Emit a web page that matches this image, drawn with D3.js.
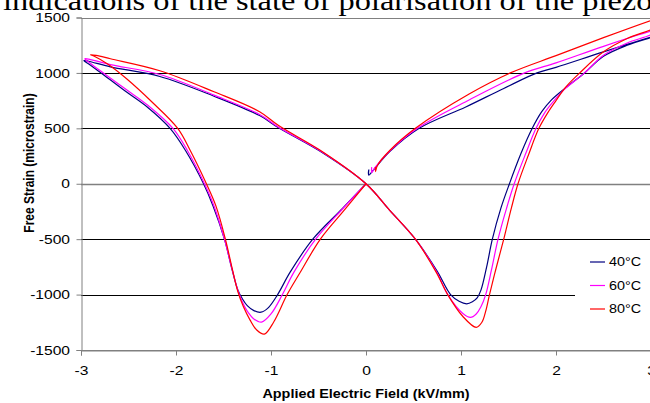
<!DOCTYPE html>
<html lang="en">
<head>
  <meta charset="UTF-8">
  <title>Free Strain vs Applied Electric Field</title>
  <script src="https://d3js.org/d3.v7.min.js"></script>
  <style>
    body { margin: 0; background: #fff; }
    svg { display: block; font-family: "Liberation Sans", Arial, sans-serif; }
    .tick text { font-size: 13px; fill: #000; }
  </style>
</head>
<body>
<svg width="650" height="403"></svg>

<script>
  // field (kV/mm), strain (microstrain) pairs, in recording order
  const loop40 = [
    [0, 0], [-0.25, -225], [-0.56, -500], [-0.8, -800], [-0.93, -1000], [-1.03, -1120], [-1.105, -1159],
    [-1.18, -1145], [-1.25, -1100], [-1.3, -1040], [-1.35, -955], [-1.41, -775], [-1.49, -500], [-1.61, -200],
    [-1.71, 0], [-1.9, 300], [-2.06, 497], [-2.3, 690], [-2.52, 827], [-2.75, 975], [-2.9, 1070], [-2.97, 1112],
    [-2.92, 1105], [-2.69, 1054], [-2.17, 968], [-1.6, 790], [-1.12, 615], [-0.92, 505], [-0.45, 275], [0, 0],
    [0.25, -240], [0.52, -500], [0.75, -790], [0.89, -1000], [0.98, -1060], [1.06, -1083], [1.12, -1065],
    [1.17, -1030], [1.21, -960], [1.27, -750], [1.33, -500], [1.42, -220], [1.51, 0], [1.63, 270], [1.75, 500],
    [1.85, 650], [1.95, 755], [2.1, 865], [2.3, 1000], [2.5, 1150], [2.75, 1250], [3.0, 1320], [3.04, 1332],
    [3.0, 1323], [2.5, 1190], [2.0, 1050], [1.8, 1000], [1.45, 860], [1.05, 693], [0.56, 500], [0.25, 290],
    [0.08, 125], [0.03, 78], [0.03, 130]
  ];
  const loop60 = [
    [0, 0], [-0.25, -230], [-0.53, -500], [-0.76, -800], [-0.88, -1000], [-1.0, -1175], [-1.1, -1249],
    [-1.18, -1220], [-1.25, -1150], [-1.3, -1070], [-1.35, -960], [-1.41, -770], [-1.49, -500], [-1.6, -200],
    [-1.7, 0], [-1.88, 300], [-2.03, 497], [-2.3, 710], [-2.52, 848], [-2.75, 990], [-2.9, 1085], [-2.96, 1128],
    [-2.9, 1120], [-2.69, 1075], [-2.17, 986], [-1.6, 800], [-1.12, 625], [-0.92, 510], [-0.45, 280], [0, 0],
    [0.25, -240], [0.52, -500], [0.74, -790], [0.86, -1000], [1.02, -1170], [1.1, -1206], [1.16, -1175],
    [1.21, -1110], [1.26, -1000], [1.32, -780], [1.39, -500], [1.48, -220], [1.56, 0], [1.68, 270], [1.79, 500],
    [1.88, 640], [1.98, 750], [2.1, 860], [2.3, 1000], [2.5, 1160], [2.75, 1270], [3.0, 1345], [3.08, 1392],
    [3.0, 1377], [2.5, 1240], [2.0, 1090], [1.67, 1000], [1.09, 758], [0.54, 500], [0.25, 295],
    [0.09, 140], [0.06, 100], [0.06, 150]
  ];
  const loop80 = [
    [0, 0], [-0.22, -230], [-0.48, -500], [-0.7, -810], [-0.83, -1000], [-0.97, -1245], [-1.07, -1357],
    [-1.15, -1320], [-1.22, -1230], [-1.29, -1110], [-1.35, -970], [-1.41, -760], [-1.48, -500], [-1.58, -200],
    [-1.68, 0], [-1.85, 300], [-1.98, 497], [-2.25, 735], [-2.52, 947], [-2.72, 1080], [-2.86, 1150], [-2.9, 1164],
    [-2.84, 1158], [-2.69, 1128], [-2.17, 1020], [-1.6, 830], [-1.12, 650], [-0.92, 525], [-0.45, 285], [0, 0],
    [0.25, -240], [0.52, -500], [0.74, -800], [0.86, -1000], [1.02, -1198], [1.16, -1296], [1.22, -1250],
    [1.26, -1150], [1.3, -1000], [1.37, -760], [1.45, -500], [1.53, -220], [1.6, 0], [1.71, 260], [1.82, 500],
    [1.92, 650], [2.0, 750], [2.1, 870], [2.25, 1000], [2.5, 1190], [2.75, 1310], [3.0, 1390], [3.2, 1470],
    [3.2, 1530], [3.0, 1473], [2.5, 1318], [2.0, 1156], [1.52, 1000], [1.09, 812], [0.52, 500], [0.25, 300],
    [0.12, 165], [0.1, 110], [0.1, 150]
  ];

  const seriesNames = ["40°C", "60°C", "80°C"];
  const seriesColors = ["#000080", "#FF00FF", "#FF0000"];
  const seriesData = [loop40, loop60, loop80];

  const xTicks = [-3, -2, -1, 0, 1, 2, 3];
  const yTicks = [-1500, -1000, -500, 0, 500, 1000, 1500];

  const svg = d3.select("svg");
  const plotLeft = 81, plotRight = 651, plotTop = 17.5, plotBottom = 350;
  const stretch = 1.2; // the picture's text is wider than it is tall

  const x = d3.scaleLinear().domain([-3, 3]).range([plotLeft, plotRight]);
  const y = d3.scaleLinear().domain([-1500, 1500]).range([plotBottom, plotTop]);

  // title text of the page it was cut from
  svg.append("text")
    .attr("transform", `translate(3,10) scale(${stretch},1)`)
    .style("font-family", "'Liberation Serif', 'Times New Roman', serif")
    .style("font-size", "27px")
    .text("indications of the state of polarisation of the piezoelectric");

  // gridlines
  svg.append("g")
    .selectAll("line")
    .data(yTicks)
    .join("line")
      .attr("x1", plotLeft)
      .attr("x2", plotRight)
      .attr("y1", d => Math.round(y(d)) + 0.5)
      .attr("y2", d => Math.round(y(d)) + 0.5)
      .attr("stroke", d => (d === 0 || Math.abs(d) === 1500) ? "#808080" : "#000")
      .attr("stroke-width", d => d === 0 ? 1.5 : 1);

  svg.append("clipPath").attr("id", "plot")
    .append("rect")
      .attr("x", plotLeft).attr("y", plotTop)
      .attr("width", plotRight - plotLeft).attr("height", plotBottom - plotTop);

  const line = d3.line()
    .x(d => x(d[0]))
    .y(d => y(d[1]))
    .curve(d3.curveCatmullRom.alpha(0.5));

  svg.append("g")
    .attr("clip-path", "url(#plot)")
    .selectAll("path")
    .data(seriesData)
    .join("path")
      .attr("d", line)
      .attr("fill", "none")
      .attr("stroke", (d, i) => seriesColors[i])
      .attr("stroke-width", 1.2)
      .attr("stroke-linejoin", "round");

  // axes
  const yAxis = svg.append("g")
    .attr("transform", `translate(${plotLeft + 0.5},0)`)
    .call(d3.axisLeft(y).tickValues(yTicks).tickSize(5).tickFormat(d => String(d)));
  yAxis.selectAll(".tick text")
    .attr("x", -11.5 / stretch)
    .attr("transform", `scale(${stretch},1)`);

  const xAxis = svg.append("g")
    .attr("transform", `translate(0,${Math.round(plotBottom) + 0.5})`)
    .call(d3.axisBottom(x).tickValues(xTicks).tickSize(5).tickPadding(10).tickFormat(d => String(d)));
  xAxis.selectAll(".tick text")
    .attr("transform", `scale(${stretch},1)`);

  [yAxis, xAxis].forEach(a => {
    a.select(".domain").attr("stroke", "#808080");
    a.selectAll(".tick line").attr("stroke", "#808080");
  });

  svg.append("text")
    .attr("transform", `translate(34,163) scale(${stretch},1) rotate(-90)`)
    .attr("text-anchor", "middle")
    .style("font-size", "12px")
    .style("font-weight", "bold")
    .text("Free Strain (microstrain)");

  svg.append("text")
    .attr("transform", `translate(366,398) scale(${stretch},1)`)
    .attr("text-anchor", "middle")
    .style("font-size", "12px")
    .style("font-weight", "bold")
    .text("Applied Electric Field (kV/mm)");

  // legend
  const legend = svg.append("g");
  legend.append("rect")
    .attr("x", 575).attr("y", 247)
    .attr("width", 80).attr("height", 74)
    .attr("fill", "#fff");
  const item = legend.selectAll("g")
    .data(seriesNames)
    .join("g")
      .attr("transform", (d, i) => `translate(590,${262 + i * 23.5})`);
  item.append("line")
    .attr("x1", 0).attr("x2", 15)
    .attr("stroke", (d, i) => seriesColors[i])
    .attr("stroke-width", 1.2);
  item.append("text")
    .attr("transform", `translate(19,0) scale(${stretch},1)`)
    .attr("dy", "0.35em")
    .style("font-size", "12px")
    .text(d => d);
</script>
</body>
</html>
